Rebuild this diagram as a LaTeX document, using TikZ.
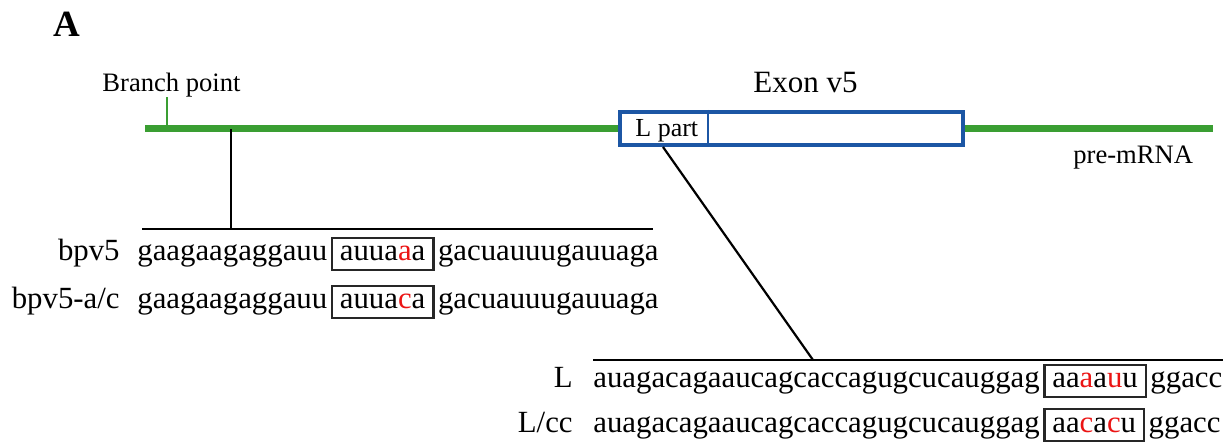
\documentclass[tikz,border=0pt]{standalone}
\usepackage{fontspec}
\setmainfont{Liberation Serif}
\usetikzlibrary{calc}
\definecolor{mrna}{RGB}{58,158,50}
\definecolor{exonblue}{RGB}{28,86,164}
\definecolor{hit}{RGB}{235,20,20}
\newcommand\seqsize{\fontsize{15.4pt}{18pt}\selectfont}
\newcommand\lblsize{\fontsize{13.3pt}{16pt}\selectfont}
\newcommand\mut[1]{\textcolor{hit}{#1}}

\begin{document}
\begin{tikzpicture}[x=0.5pt,y=-0.5pt,
  lbl/.style={inner sep=0pt, anchor=base west, font=\lblsize},
  seq/.style={inner sep=0pt, anchor=base west, font=\seqsize},
  seqname/.style={inner sep=0pt, anchor=base east, font=\seqsize},
  motif/.style={seq, draw=black!85, line width=1.25pt, inner xsep=4pt,
                inner ysep=0pt, text height=11.5pt, text depth=4.5pt},
  rule/.style={line width=1.1pt, black},
  premrna/.style={line width=3.6pt, mrna},
  exonbox/.style={draw=exonblue, line width=2pt, fill=white,
                  minimum width=171.5pt, minimum height=16.5pt, inner sep=0pt}]
\useasboundingbox (0,0) rectangle (1231,448);

% panel letter and titles
\node[inner sep=0pt, anchor=base west, font=\bfseries\fontsize{18.5pt}{22pt}\selectfont] (panel) at (53,37) {A};
\node[lbl] (bptext) at (102,92) {Branch point};
\node[inner sep=0pt, anchor=base west, font=\fontsize{15.5pt}{18pt}\selectfont] (exontitle) at (753,93) {Exon v5};

% pre-mRNA with exon v5
\node[exonbox] (exon) at (791.5,128.5) {};
\coordinate (mL) at (145,128.5);
\coordinate (mR) at (1213,128.5);
\draw[premrna] (mL) -- (exon.west);
\draw[premrna] (exon.east) -- (mR);
\draw[exonblue, line width=1.4pt] ($(exon.north west)+(90,0)$) -- ($(exon.south west)+(90,0)$);
\node[inner sep=0pt, anchor=base west, font=\fontsize{13pt}{16pt}\selectfont] (lpart) at (635,137) {L part};
\node[lbl] (premrnatext) at (1073,164) {pre-mRNA};

% branch point tick
\coordinate (bpbase) at (167,128.5);
\coordinate (bptop) at (167,97);
\draw[mrna, line width=1.1pt] (bpbase) -- (bptop);

% zoom onto branch point region
\coordinate (bpsite) at (231,129);
\coordinate (bpdrop) at (231,229);
\coordinate (bplineL) at (142,229);
\coordinate (bplineR) at (653,229);
\draw[rule] (bpsite) -- (bpdrop);
\draw[rule] (bplineL) -- (bplineR);

% bpv5 sequences
\node[seqname] (n1) at (120,261) {bpv5};
\node[seq] (p1) at (137,261) {gaagaagaggauu};
\node[motif] (m1) at ($(p1.base east)+(3,0)$) {auua\mut{a}a};
\node[seq] (s1) at ($(m1.base east)+(3,0)$) {gacuauuugauuaga};

\node[seqname] (n2) at (120,309) {bpv5-a/c};
\node[seq] (p2) at (137,309) {gaagaagaggauu};
\node[motif] (m2) at ($(p2.base east)+(3,0)$) {auua\mut{c}a};
\node[seq] (s2) at ($(m2.base east)+(3,0)$) {gacuauuugauuaga};

% zoom onto L part
\coordinate (lsite) at ($(exon.south west)+(45,0)$);
\coordinate (ldrop) at (813,360);
\coordinate (llineL) at (593,360);
\coordinate (llineR) at (1223,360);
\draw[rule] (lsite) -- (ldrop);
\draw[rule] (llineL) -- (llineR);

% L sequences
\node[seqname] (n3) at (573,388) {L};
\node[seq] (p3) at (593,388) {auagacagaaucagcaccagugcucauggag};
\node[motif] (m3) at ($(p3.base east)+(3,0)$) {aa\mut{a}a\mut{u}u};
\node[seq] (s3) at ($(m3.base east)+(3,0)$) {ggacc};

\node[seqname] (n4) at (573,432) {L/cc};
\node[seq] (p4) at (593,432) {auagacagaaucagcaccagugcucauggag};
\node[motif] (m4) at ($(p4.base east)+(3,0)$) {aa\mut{c}a\mut{c}u};
\node[seq] (s4) at ($(m4.base east)+(3,0)$) {ggacc};
\end{tikzpicture}
\end{document}
